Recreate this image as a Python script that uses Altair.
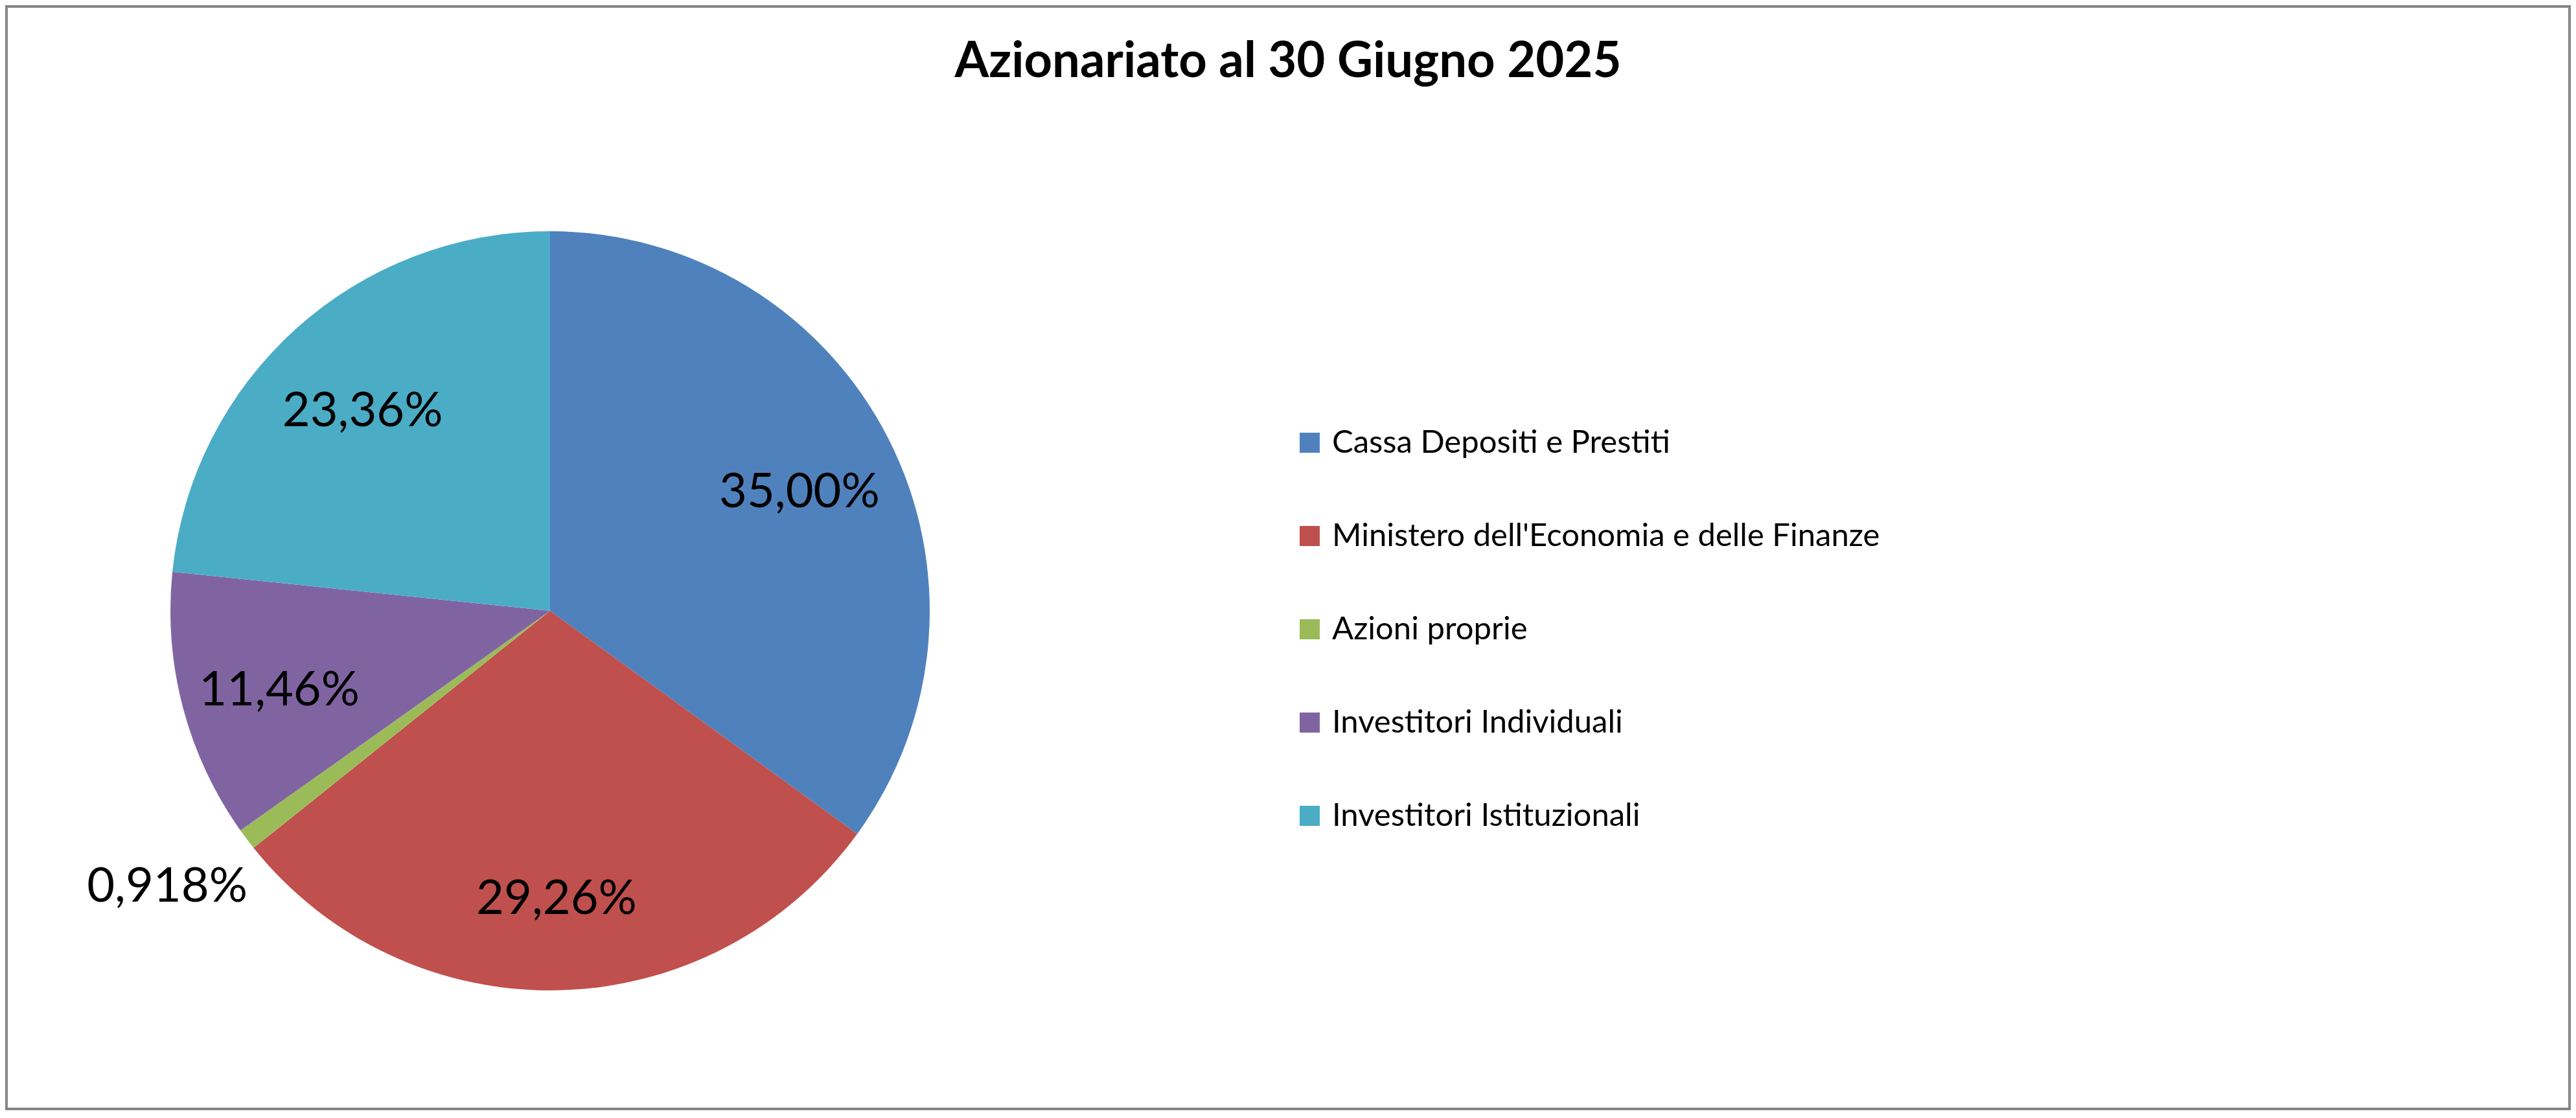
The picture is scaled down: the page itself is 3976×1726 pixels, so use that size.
import altair as alt
import pandas as pd

# Data
categories = [
    "Cassa Depositi e Prestiti",
    "Ministero dell'Economia e delle Finanze",
    "Azioni proprie",
    "Investitori Individuali",
    "Investitori Istituzionali",
]
shares = [35.00, 29.26, 0.918, 11.46, 23.36]
labels = ["35,00%", "29,26%", "0,918%", "11,46%", "23,36%"]
colors = ["#4F81BD", "#C0504D", "#9BBB59", "#8064A2", "#4BACC6"]

df = pd.DataFrame({
    "categoria": categories,
    "quota": shares,
    "etichetta": labels,
    "ordine": list(range(len(categories))),
})

FONT = "Lato"
W, H = 3960, 1706
CX, CY = 841, 935
R = 586

base = alt.Chart(df).encode(
    theta=alt.Theta("quota:Q", stack=True),
    order=alt.Order("ordine:Q", sort="ascending"),
)

frame = alt.Chart(pd.DataFrame({"f": [0]})).mark_rect(
    fillOpacity=0, stroke="#868686", strokeWidth=4
).encode(
    x=alt.value(2), x2=alt.value(W - 2), y=alt.value(2), y2=alt.value(H - 2)
)

arcs = base.mark_arc(outerRadius=R, x=CX, y=CY).encode(
    color=alt.Color(
        "categoria:N",
        scale=alt.Scale(domain=categories, range=colors),
        sort=categories,
        legend=alt.Legend(
            orient="none",
            legendX=1989,
            legendY=651,
            title=None,
            symbolType="square",
            symbolSize=961,
            symbolStrokeWidth=0,
            symbolOpacity=1,
            labelFontSize=49,
            labelFont=FONT,
            labelColor="black",
            rowPadding=94,
            labelOffset=10,
            labelLimit=0,
        ),
    )
)

inner = base.transform_calculate(
    testo="datum.quota >= 2 ? datum.etichetta : ''"
).mark_text(
    radius=432, x=CX, y=CY, dy=14, font=FONT, fontSize=74, color="black",
    align="center", baseline="middle",
).encode(text="testo:N")

outer = base.transform_calculate(
    testo="datum.quota < 2 ? datum.etichetta : ''"
).mark_text(
    radius=740, x=CX, y=CY, dy=-18, font=FONT, fontSize=74, color="black",
    align="center", baseline="middle",
).encode(text="testo:N")

chart = alt.layer(frame, arcs, inner, outer).properties(
    width=W,
    height=H,
    padding=0,
    autosize=alt.AutoSizeParams(type="none"),
    background="white",
    title=alt.TitleParams(
        "Azionariato al 30 Giugno 2025",
        font=FONT,
        fontSize=76,
        fontWeight="bold",
        color="black",
        anchor="middle",
        frame="group",
        baseline="alphabetic",
        offset=-107,
        dy=80,
    ),
).configure_view(
    strokeWidth=0,
)

chart.save("out.html", embed_options={"renderer": "svg", "actions": False})
